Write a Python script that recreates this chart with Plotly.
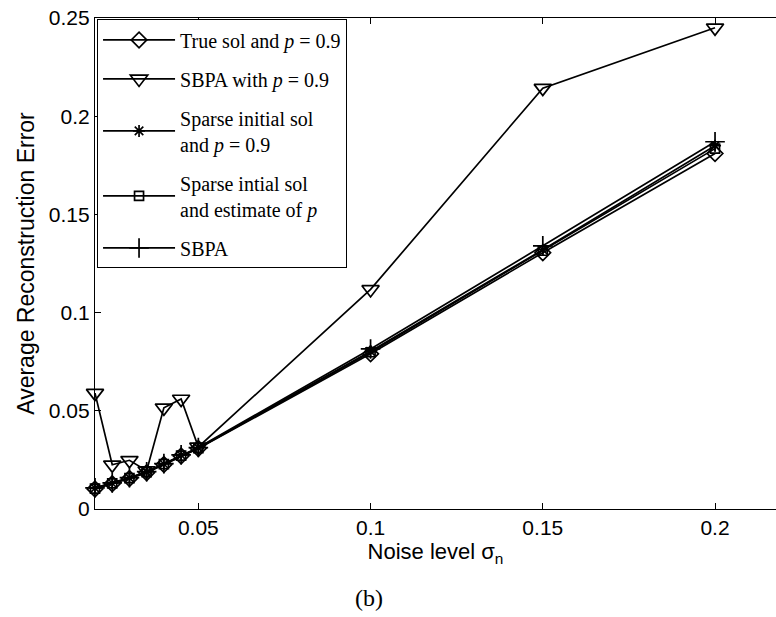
import plotly.graph_objects as go

# Noise levels sigma_n
noise = [0.02, 0.025, 0.03, 0.035, 0.04, 0.045, 0.05, 0.1, 0.15, 0.2]

# Average reconstruction error per method
true_sol_p09 = [0.0102, 0.0128, 0.0155, 0.0185, 0.0226, 0.0270, 0.0308, 0.0790, 0.1305, 0.1810]
sbpa_p09 = [0.0590, 0.0225, 0.0248, 0.0195, 0.0515, 0.0560, 0.0316, 0.1118, 0.2143, 0.2450]
sparse_init_p09 = [0.0106, 0.0131, 0.0158, 0.0188, 0.0229, 0.0274, 0.0311, 0.0803, 0.1320, 0.1850]
sparse_init_est_p = [0.0104, 0.0130, 0.0157, 0.0187, 0.0228, 0.0272, 0.0310, 0.0798, 0.1315, 0.1835]
sbpa = [0.0108, 0.0133, 0.0160, 0.0190, 0.0231, 0.0276, 0.0313, 0.0815, 0.1340, 0.1870]

series = [
    ("True sol and <i>p</i> = 0.9", true_sol_p09, "diamond-open", 12),
    ("SBPA with <i>p</i> = 0.9", sbpa_p09, "triangle-down-open", 15),
    ("Sparse initial sol<br>and <i>p</i> = 0.9", sparse_init_p09, "asterisk-open", 10),
    ("Sparse intial sol<br>and estimate of <i>p</i>", sparse_init_est_p, "square-open", 9),
    ("SBPA", sbpa, "cross-thin-open", 14),
]

fig = go.Figure()
for i, (name, vals, sym, size) in enumerate(series):
    fig.add_trace(go.Scatter(
        x=noise, y=vals, name=name, mode="lines+markers",
        legendgroup=f"g{i}", cliponaxis=False,
        line=dict(color="black", width=1.7),
        marker=dict(symbol=sym, size=size, color="black",
                    line=dict(color="black", width=1.7)),
    ))

sans = "Liberation Sans, Arial, sans-serif"
serif = "Liberation Serif, Times New Roman, serif"
tick_font = dict(family=sans, size=21, color="black")
title_font = dict(family=sans, size=23, color="black")

fig.update_layout(
    width=776, height=617,
    margin=dict(l=95, r=0, t=18, b=108),
    paper_bgcolor="white", plot_bgcolor="white",
    showlegend=True,
    legend=dict(
        x=0.003, y=0.997, xanchor="left", yanchor="top",
        bgcolor="white", bordercolor="black", borderwidth=1,
        font=dict(family=serif, size=20, color="black"),
        tracegroupgap=10, itemwidth=72,
    ),
    xaxis=dict(
        range=[0.02, 0.2177], tickvals=[0.05, 0.1, 0.15, 0.2],
        ticktext=["0.05", "0.1", "0.15", "0.2"],
        ticks="inside", ticklen=6, tickcolor="black", tickwidth=1,
        showline=True, linecolor="black", linewidth=1.2, mirror="ticks",
        showgrid=False, zeroline=False, tickfont=tick_font,
        title=dict(text="Noise level σ<sub>n</sub>", font=dict(family=sans, size=22, color="black"), standoff=4),
    ),
    yaxis=dict(
        range=[0, 0.25], tickvals=[0, 0.05, 0.1, 0.15, 0.2, 0.25],
        ticktext=["0", "0.05", "0.1", "0.15", "0.2", "0.25"],
        ticks="inside", ticklen=6, tickcolor="black", tickwidth=1,
        showline=True, linecolor="black", linewidth=1.2, mirror=False,
        showgrid=False, zeroline=False, tickfont=tick_font,
        title=dict(text="Average Reconstruction Error", font=title_font, standoff=7),
    ),
    annotations=[dict(
        text="(b)", xref="paper", yref="paper", x=0.403, y=-0.151,
        xanchor="center", yanchor="top", showarrow=False,
        font=dict(family=serif, size=24, color="black"),
    )],
)

fig.write_html("out.html")
